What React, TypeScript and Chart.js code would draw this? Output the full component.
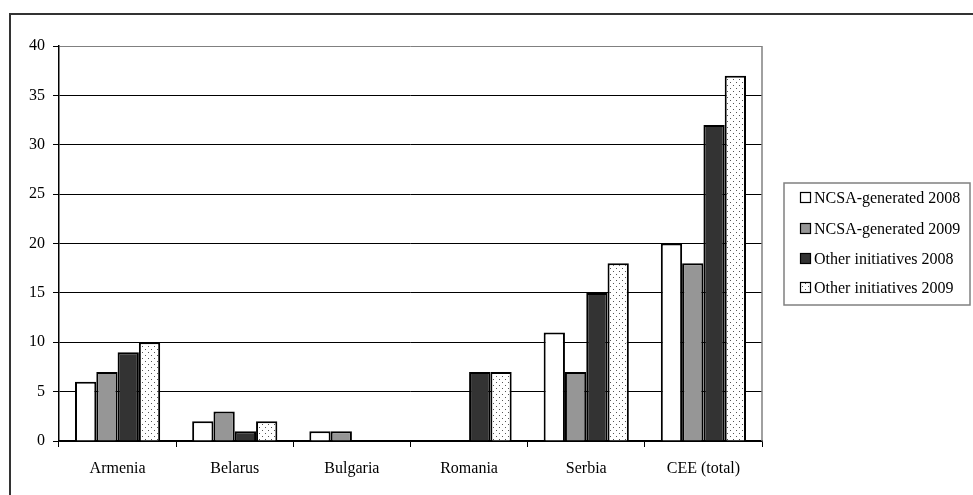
import React, { useEffect, useRef } from "react";
import { Chart, registerables } from "chart.js";

Chart.register(...registerables);

const categories = ["Armenia", "Belarus", "Bulgaria", "Romania", "Serbia", "CEE (total)"];
const ncsa2008 = [6, 2, 1, 0, 11, 20];
const ncsa2009 = [7, 3, 1, 0, 7, 18];
const other2008 = [9, 1, 0, 7, 15, 32];
const other2009 = [10, 2, 0, 7, 18, 37];
const seriesLabels = [
  "NCSA-generated 2008",
  "NCSA-generated 2009",
  "Other initiatives 2008",
  "Other initiatives 2009",
];

const FONT = "'Liberation Serif', 'Times New Roman', serif";

function makeDotPattern(): CanvasPattern | string {
  const c = document.createElement("canvas");
  c.width = 6;
  c.height = 6;
  const g = c.getContext("2d");
  if (!g) return "#fff";
  g.fillStyle = "#ffffff";
  g.fillRect(0, 0, 6, 6);
  g.fillStyle = "#555555";
  g.fillRect(1, 1, 1, 1);
  g.fillRect(4, 4, 1, 1);
  const p = g.createPattern(c, "repeat");
  return p || "#fff";
}

export default function App() {
  const ref = useRef<HTMLCanvasElement | null>(null);

  useEffect(() => {
    if (!ref.current) return;
    const dots = makeDotPattern();
    const fills: any[] = ["#ffffff", "#969696", "#333333", dots];

    const framePlugin = {
      id: "framePlugin",
      afterDraw(chart: any) {
        const ctx = chart.ctx as CanvasRenderingContext2D;
        const { right, top, bottom } = chart.chartArea;
        ctx.save();
        // plot area right border
        ctx.strokeStyle = "#808080";
        ctx.lineWidth = 1.5;
        ctx.beginPath();
        ctx.moveTo(right, top);
        ctx.lineTo(right, bottom);
        ctx.stroke();
        // outer frame
        ctx.strokeStyle = "#333333";
        ctx.lineWidth = 2;
        ctx.strokeRect(10, 14, 1200, 1000);
        // legend box
        const lx = 784, ly = 183, lw = 186, lh = 122;
        ctx.fillStyle = "#ffffff";
        ctx.fillRect(lx, ly, lw, lh);
        ctx.strokeStyle = "#808080";
        ctx.lineWidth = 1.5;
        ctx.strokeRect(lx, ly, lw, lh);
        ctx.font = `16px ${FONT}`;
        ctx.textBaseline = "middle";
        ctx.textAlign = "left";
        const rows = [198, 229, 259, 288];
        chart.data.datasets.forEach((ds: any, i: number) => {
          const cy = rows[i];
          ctx.fillStyle = fills[i];
          ctx.fillRect(800.5, cy - 5.5, 10, 10);
          ctx.strokeStyle = "#000";
          ctx.lineWidth = 1.2;
          ctx.strokeRect(800.5, cy - 5.5, 10, 10);
          ctx.fillStyle = "#000";
          ctx.fillText(ds.label, 814, cy + 1);
        });
        ctx.restore();
      },
    };

    const values = [ncsa2008, ncsa2009, other2008, other2009];
    const chart = new Chart(ref.current, {
      type: "bar",
      data: {
        labels: categories,
        datasets: values.map((v, i) => ({
          label: seriesLabels[i],
          data: v,
          backgroundColor: fills[i],
          borderColor: "#000000",
          borderWidth: 2,
          categoryPercentage: 0.727,
          barPercentage: 1,
        })),
      },
      options: {
        animation: false,
        responsive: false,
        devicePixelRatio: 1,
        layout: { padding: { top: 46, right: 211, left: 0, bottom: 0 } },
        plugins: {
          legend: { display: false },
          tooltip: { enabled: false },
          title: { display: false },
        },
        scales: {
          x: {
            afterFit: (s: any) => {
              s.height = 54;
            },
            grid: {
              offset: true,
              drawOnChartArea: false,
              tickLength: 6,
              color: "#000",
              lineWidth: 1,
            },
            border: { color: "#000", width: 1.5 },
            ticks: {
              color: "#000",
              font: { family: FONT, size: 16 },
              padding: 12,
              maxRotation: 0,
            },
          },
          y: {
            min: 0,
            max: 40,
            afterFit: (s: any) => {
              s.width = 59;
            },
            grid: {
              color: (c: any) => (c.tick && c.tick.value === 40 ? "#808080" : "#000"),
              tickColor: "#000",
              tickLength: 6,
              lineWidth: 1,
            },
            border: { color: "#000", width: 1.5 },
            ticks: {
              stepSize: 5,
              color: "#000",
              font: { family: FONT, size: 16 },
              padding: 8,
            },
          },
        },
      },
      plugins: [framePlugin],
    });
    return () => chart.destroy();
  }, []);

  return (
    <div style={{ position: "absolute", left: 0, top: 0, width: 973, height: 495, overflow: "hidden", background: "#fff" }}>
      <canvas ref={ref} width={973} height={495} style={{ width: 973, height: 495, display: "block" }} />
    </div>
  );
}
